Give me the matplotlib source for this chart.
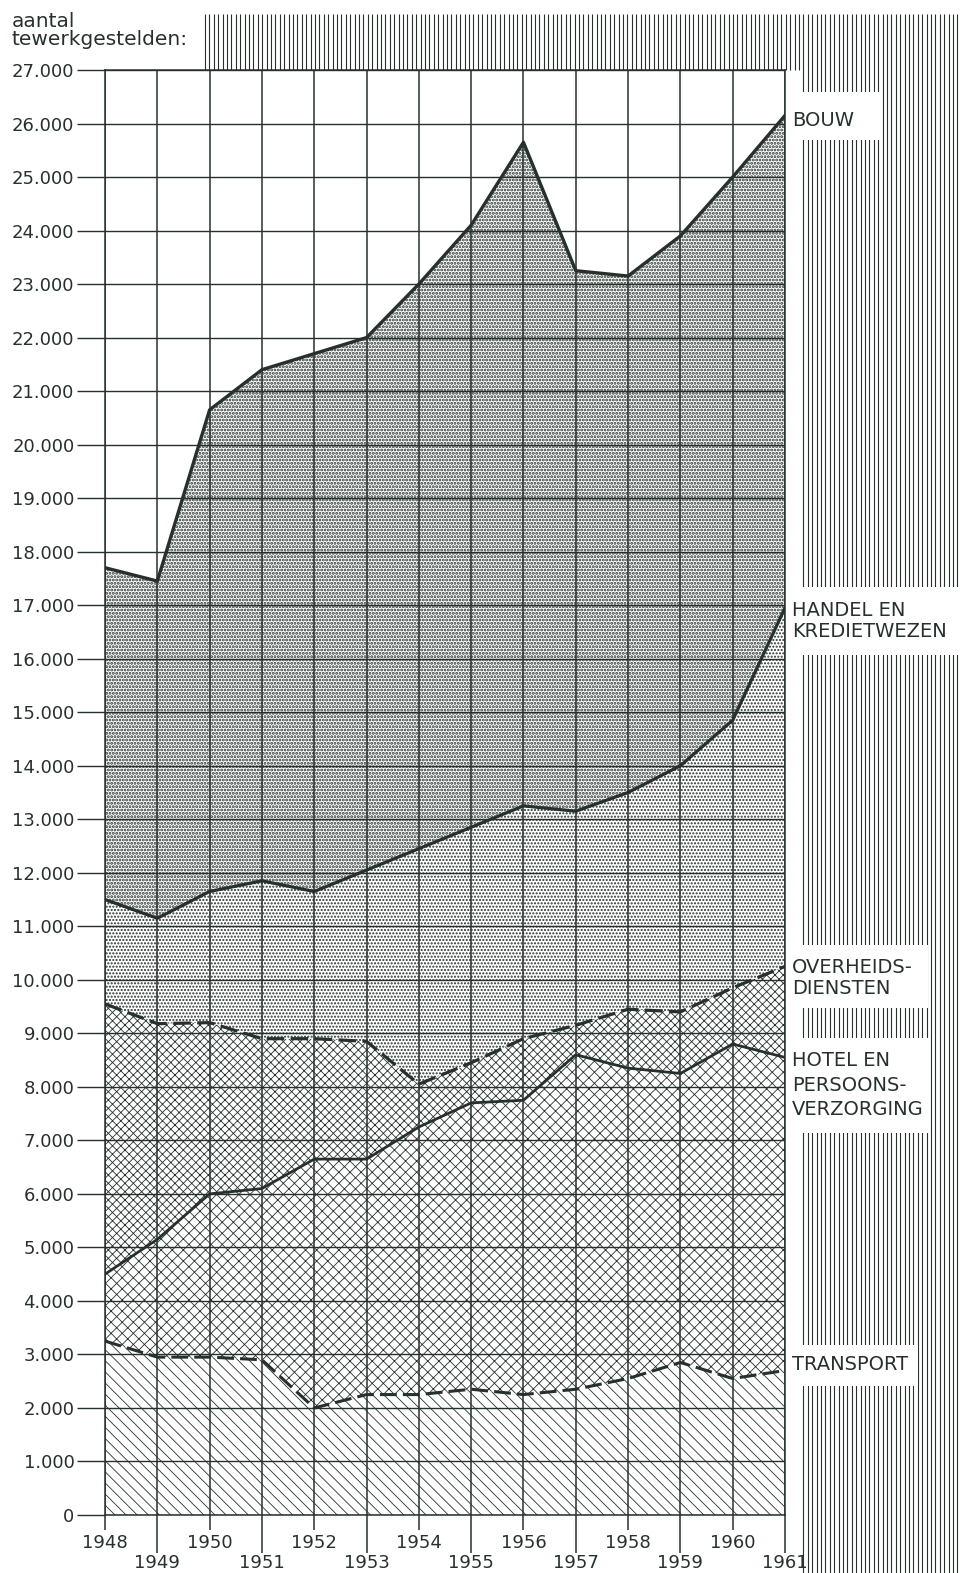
import numpy as np
import matplotlib as mpl
import matplotlib.pyplot as plt
from matplotlib.patches import Rectangle

# aantal tewerkgestelden per jaar, gestapeld (bovenkant van elke laag)
years = np.arange(1948, 1962)
transport = [3250, 2950, 2950, 2900, 2000, 2250, 2250, 2350, 2250, 2350, 2550, 2850, 2550, 2700]
hotel = [4500, 5150, 6000, 6100, 6650, 6650, 7250, 7700, 7750, 8600, 8350, 8250, 8800, 8550]
overheid = [9550, 9180, 9200, 8900, 8900, 8850, 8050, 8450, 8900, 9150, 9450, 9400, 9850, 10250]
handel = [11500, 11150, 11650, 11850, 11650, 12050, 12450, 12850, 13250, 13150, 13500, 14000, 14850, 16950]
bouw = [17700, 17450, 20650, 21400, 21700, 22000, 23000, 24100, 25650, 23250, 23150, 23900, 25000, 26150]

yticks = np.arange(0, 27001, 1000)
sector_labels = ['TRANSPORT', 'HOTEL EN\nPERSOONS-\nVERZORGING', 'OVERHEIDS-\nDIENSTEN',
                 'HANDEL EN\nKREDIETWEZEN', 'BOUW']

ink = '#27312c'
plt.rcParams['font.family'] = ['DejaVu Sans']
plt.rcParams['hatch.linewidth'] = 0.6

W, H = 969, 1573
fig = plt.figure(figsize=(W / 100, H / 100), dpi=100, facecolor='white')

# background decoration in pixel coordinates
deco = fig.add_axes([0, 0, 1, 1], zorder=0)
deco.set_xlim(0, W)
deco.set_ylim(H, 0)
deco.axis('off')

xs = np.arange(205, 961, 4.4)
deco.vlines(xs, 14, np.where(xs >= 802, H, 70), color=ink, lw=0.8)

# white label boxes (x0, y0, x1, y1), text top and line spacing
boxes = [(787, 1345, 918, 1386), (787, 1038, 930, 1133), (787, 945, 928, 1008),
         (787, 587, 962, 655), (787, 92, 882, 140)]
text_tops = [1355, 1051, 958, 601, 111]
spacings = [1.2, 1.38, 1.15, 1.15, 1.2]
for (x0, y0, x1, y1), lab, ty, ls in zip(boxes, sector_labels, text_tops, spacings):
    deco.add_patch(Rectangle((x0, y0), x1 - x0, y1 - y0, facecolor='white',
                             edgecolor='none', zorder=3))
    deco.text(792, ty, lab, fontsize=14, color=ink, va='top', ha='left',
              linespacing=ls, zorder=4)

fig.text(12 / W, 1 - 12 / H, 'aantal\ntewerkgestelden:', fontsize=14.5, color=ink,
         va='top', ha='left', linespacing=0.92)

# main chart
ax = fig.add_axes([105 / W, 1 - 1515 / H, (785 - 105) / W, (1515 - 70) / H], zorder=1)

ax.fill_between(years, 0, transport, facecolor='white', edgecolor=ink, lw=0, hatch='\\\\\\')
ax.fill_between(years, transport, hotel, facecolor='white', edgecolor=ink, lw=0, hatch='xxx')
ax.fill_between(years, hotel, overheid, facecolor='white', edgecolor=ink, lw=0, hatch='xxxx')
with mpl.rc_context({'hatch.linewidth': 1.0}):
    ax.fill_between(years, overheid, handel, facecolor='white', edgecolor=ink, lw=0, hatch='.....')
with mpl.rc_context({'hatch.linewidth': 1.4}):
    ax.fill_between(years, handel, bouw, facecolor='white', edgecolor=ink, lw=0, hatch='.....')

dash = (0, (5.5, 2))
ax.plot(years, transport, color=ink, lw=2.2, ls=dash, zorder=3)
ax.plot(years, hotel, color=ink, lw=2.0, zorder=3)
ax.plot(years, overheid, color=ink, lw=2.3, ls=dash, zorder=3)
ax.plot(years, handel, color=ink, lw=2.3, zorder=3)
ax.plot(years, bouw, color=ink, lw=2.4, zorder=3)

ax.set_xlim(1948, 1961)
ax.set_ylim(0, 27000)
ax.set_yticks(yticks)
ax.set_yticklabels([f'{v:,}'.replace(',', '.') for v in yticks])
ax.set_xticks(years[::2])
ax.set_xticklabels([str(y) for y in years[::2]])
ax.set_xticks(years[1::2], minor=True)
ax.set_xticklabels([str(y) for y in years[1::2]], minor=True)

ax.tick_params(axis='y', length=20, width=1.0, pad=2, labelsize=13, color=ink, labelcolor=ink)
ax.tick_params(axis='x', which='major', length=11, width=1.1, pad=3, labelsize=13,
               color=ink, labelcolor=ink)
ax.tick_params(axis='x', which='minor', length=27, width=1.1, pad=1, labelsize=13,
               color=ink, labelcolor=ink)

ax.grid(True, which='both', axis='x', color=ink, lw=1.1)
ax.grid(True, which='major', axis='y', color=ink, lw=1.0)
ax.set_axisbelow(False)
for s in ax.spines.values():
    s.set_color(ink)
    s.set_linewidth(1.1)

fig.savefig('out.png', dpi=100)
